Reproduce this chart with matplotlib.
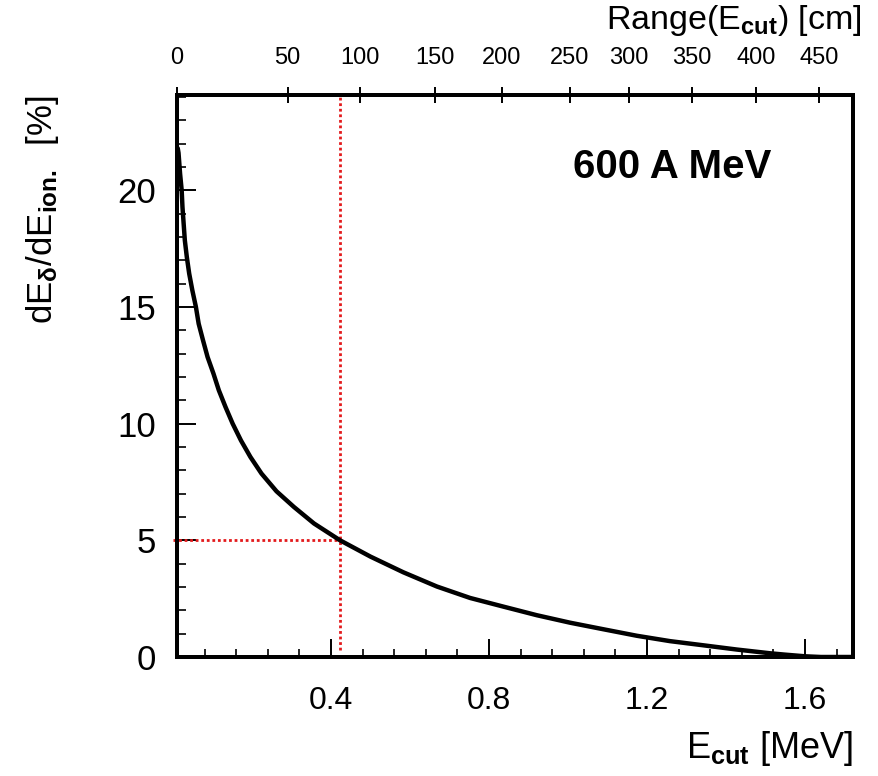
import matplotlib
matplotlib.use("Agg")
import matplotlib.pyplot as plt
from matplotlib.ticker import MultipleLocator, FixedLocator

plt.rcParams['font.family'] = ['Liberation Sans', 'DejaVu Sans']
plt.rcParams['mathtext.fontset'] = 'custom'
plt.rcParams['mathtext.rm'] = 'Liberation Sans'
plt.rcParams['mathtext.it'] = 'Liberation Sans:italic'
plt.rcParams['mathtext.bf'] = 'Liberation Sans:bold'

# Curve: E_cut [MeV] vs dE_delta/dE_ion [%]
e_cut = [0.012, 0.014, 0.018, 0.022, 0.024, 0.030, 0.035, 0.041, 0.049, 0.058,
         0.065, 0.076, 0.0876, 0.1025, 0.116, 0.133, 0.151, 0.172, 0.196, 0.224,
         0.262, 0.306, 0.357, 0.4228, 0.50, 0.583, 0.668, 0.752, 0.836, 0.921,
         1.005, 1.089, 1.174, 1.258, 1.343, 1.427, 1.511, 1.55, 1.60, 1.64, 1.72]
ratio = [21.8, 21.6, 20.7, 20.0, 19.28, 17.85, 17.14, 16.43, 15.71, 15.0,
         14.28, 13.57, 12.85, 12.14, 11.43, 10.71, 10.0, 9.28, 8.57, 7.86,
         7.10, 6.43, 5.72, 5.0, 4.3, 3.63, 3.02, 2.53, 2.16, 1.79,
         1.47, 1.19, 0.91, 0.68, 0.50, 0.32, 0.16, 0.10, 0.03, 0.0, 0.0]

# Top axis: range in cm and the E_cut where each tick sits
range_ticks = [0, 50, 100, 150, 200, 250, 300, 350, 400, 450]
range_tick_energy = [0.0094, 0.290, 0.473, 0.662, 0.832, 1.005, 1.153, 1.314, 1.476, 1.635]

# Marked point
mark_e = 0.4228
mark_ratio = 5.0

xlim = (0.0094, 1.722)
ylim = (0, 24.08)

fig = plt.figure(figsize=(8.79, 7.76), dpi=100)
ax = fig.add_axes([176.7/879, (776-657)/776, (853.3-176.7)/879, (657-95)/776])

ax.plot(e_cut, ratio, color='black', lw=3.2, solid_capstyle='round', solid_joinstyle='round', zorder=3)

# red dotted guide lines
ax.plot([0.0, mark_e], [mark_ratio, mark_ratio], color='#e31a1c', lw=2.0, ls=(0, (1, 1.0)), clip_on=False, zorder=2)
ax.plot([mark_e, mark_e], [0.3, ylim[1]], color='#e31a1c', lw=2.0, ls=(0, (1, 1.0)), zorder=2)

ax.set_xlim(*xlim)
ax.set_ylim(*ylim)

for s in ax.spines.values():
    s.set_linewidth(2.8)

ax.xaxis.set_major_locator(FixedLocator([0.4, 0.8, 1.2, 1.6]))
ax.xaxis.set_minor_locator(FixedLocator([0.08*i for i in range(1, 22) if i % 5 != 0]))
ax.yaxis.set_major_locator(MultipleLocator(5))
ax.yaxis.set_minor_locator(MultipleLocator(1))
ax.set_xticklabels(['0.4', '0.8', '1.2', '1.6'])

ax.tick_params(axis='x', which='major', direction='in', length=13, width=1.4, labelsize=23, pad=21, top=False)
ax.tick_params(axis='x', which='minor', direction='in', length=6, width=1.2, top=False)
ax.tick_params(axis='y', which='major', direction='in', length=14, width=1.4, labelsize=25, pad=15, right=False)
ax.tick_params(axis='y', which='minor', direction='in', length=6.5, width=1.2, right=False)

ax2 = ax.twiny()
ax2.set_xlim(*xlim)
ax2.set_xticks(range_tick_energy)
ax2.set_xticklabels([str(r) for r in range_ticks])
ax2.tick_params(axis='x', which='major', direction='inout', length=11, width=1.4, labelsize=17, pad=13)
ax2.xaxis.set_minor_locator(FixedLocator([]))
for s in ax2.spines.values():
    s.set_linewidth(2.8)

ax.text(0.586, 0.872, '600 A MeV', transform=ax.transAxes, fontsize=29, fontweight='bold',
        ha='left', va='center')

fig.text(853/879, 1 - 748/776, r'E$_{\mathbf{cut}}$ [MeV]', fontsize=26, ha='right', va='center')
fig.text(862/879, 1 - 20/776, r'Range(E$_{\mathbf{cut}}$) [cm]', fontsize=24.5, ha='right', va='center')
fig.text(43/879, 1 - 210/776, r'dE$_{\mathbf{\delta}}$/dE$_{\mathbf{ion.}}$  [%]', fontsize=25,
         rotation=90, ha='center', va='center')

fig.savefig('out.png', dpi=100)
